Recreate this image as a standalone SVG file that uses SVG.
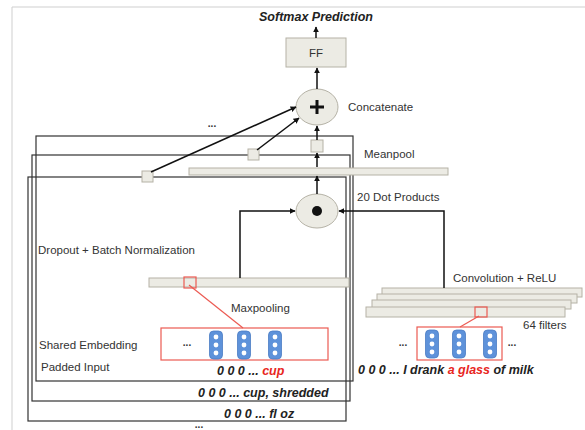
<svg xmlns="http://www.w3.org/2000/svg" width="585" height="430" viewBox="0 0 585 430">
<style>
.t{font-family:"Liberation Sans",Arial,sans-serif;font-size:11.5px;fill:#333}
.bi{font-family:"Liberation Sans",Arial,sans-serif;font-size:12.5px;font-weight:bold;font-style:italic;fill:#222}
.red{fill:#e8261e}
.card{fill:none;stroke:#333;stroke-width:1.2}
.bar{fill:#ecebe4;stroke:#b5b2a6;stroke-width:1}
.node{fill:#ecebe4;stroke:#b5b2a6;stroke-width:1}
.conn{fill:none;stroke:#111;stroke-width:1.5}
.rbox{fill:none;stroke:#ec5a52;stroke-width:1.2}
.pill{fill:#5e92da;stroke:#4a7cc4;stroke-width:0.8}
.dot{fill:#fff}
.dots{font-family:"Liberation Sans",Arial,sans-serif;font-size:10px;font-weight:bold;fill:#333}
</style>
<defs>
<marker id="ah" viewBox="0 0 10 10" refX="9" refY="5" markerWidth="6" markerHeight="6" orient="auto" markerUnits="userSpaceOnUse">
<path d="M0,0 L10,5 L0,10 z" fill="#111"/>
</marker>
<g id="pillshape">
<rect x="-6.5" y="0" width="13" height="28" rx="4" class="pill"/>
<circle cx="0" cy="6" r="2.4" class="dot"/>
<circle cx="0" cy="14" r="2.4" class="dot"/>
<circle cx="0" cy="22" r="2.4" class="dot"/>
</g>
</defs>
<rect width="585" height="430" fill="#fff"/>
<g id="page">
<path d="M12,430 L12,7 L585,7" fill="none" stroke="#cfcfcf" stroke-width="1"/>
</g>
<g id="cards">
<rect class="card" x="36" y="136" width="317" height="245"/>
<rect class="card" x="32" y="155" width="318" height="246"/>
<rect class="card" x="28" y="177" width="318" height="244"/>
</g>
<g id="softmax"><text class="bi" x="316" y="21" text-anchor="middle">Softmax Prediction</text></g>
<g id="ff">
<rect class="node" x="286" y="38" width="60" height="29"/>
<text class="t" x="316" y="57" text-anchor="middle" font-size="10">FF</text>
</g>
<g id="concat">
<ellipse class="node" cx="317" cy="107" rx="21" ry="18"/>
<path d="M317,100 V114 M310,107 H324" stroke="#111" stroke-width="3"/>
<text class="t" x="348" y="111">Concatenate</text>
</g>
<g id="sq-mean">
<rect class="node" x="311" y="140" width="12" height="12"/>
</g>
<g id="sq-a"><rect class="node" x="142" y="171" width="11" height="11"/></g>
<g id="sq-b"><rect class="node" x="248" y="149" width="11" height="11"/></g>
<g id="meanpool">
<rect class="bar" x="189" y="168" width="259" height="7"/>
<text class="t" x="364" y="158">Meanpool</text>
</g>
<g id="dotprod">
<ellipse class="node" cx="317" cy="211" rx="21" ry="17"/>
<circle cx="317" cy="211" r="5" fill="#111"/>
<text class="t" x="357" y="201">20 Dot Products</text>
</g>
<g id="dropout">
<text class="t" x="38" y="254" font-size="12">Dropout + Batch Normalization</text>
<rect class="bar" x="149" y="278" width="200" height="9"/>
<rect class="rbox" x="184" y="277" width="12" height="11"/>
<text class="t" x="231" y="312">Maxpooling</text>
</g>
<g id="embed-left">
<rect class="rbox" x="161" y="328" width="167" height="32"/>
<text class="dots" x="187" y="346" text-anchor="middle">...</text>
<use href="#pillshape" x="216" y="331"/>
<use href="#pillshape" x="244" y="331"/>
<use href="#pillshape" x="275" y="331"/>
<text class="t" x="39" y="349">Shared Embedding</text>
<text class="t" x="41" y="371">Padded Input</text>
<text class="bi" x="217" y="375">0 0 0 ... <tspan class="red">cup</tspan></text>
<text class="bi" x="198" y="397">0 0 0 ... cup, shredded</text>
<text class="bi" x="224" y="418">0 0 0 ... fl oz</text>
</g>
<g id="conv">
<rect class="bar" x="382" y="288" width="200" height="9"/>
<rect class="bar" x="377" y="294" width="200" height="9"/>
<rect class="bar" x="372" y="300" width="199" height="9"/>
<rect class="bar" x="366" y="307" width="199" height="10"/>
<rect class="rbox" x="475" y="307" width="12" height="10"/>
<text class="t" x="453" y="282">Convolution + ReLU</text>
<text class="t" x="523" y="329">64 filters</text>
</g>
<g id="embed-right">
<rect class="rbox" x="417" y="327" width="85" height="33"/>
<text class="dots" x="403" y="346" text-anchor="middle">...</text>
<text class="dots" x="512" y="346" text-anchor="middle">...</text>
<use href="#pillshape" x="432" y="330"/>
<use href="#pillshape" x="459" y="330"/>
<use href="#pillshape" x="490" y="330"/>
<text class="bi" x="358" y="374">0 0 0 ... I drank <tspan class="red">a glass</tspan> of milk</text>
</g>
<g id="ellipses">
<text class="dots" x="212" y="127" text-anchor="middle">...</text>
<text class="dots" x="199" y="428" text-anchor="middle">...</text>
</g>
<g id="connectors">
<line class="conn" x1="316" y1="38" x2="316" y2="27" marker-end="url(#ah)"/>
<line class="conn" x1="317" y1="89" x2="317" y2="68" marker-end="url(#ah)"/>
<line class="conn" x1="317" y1="140" x2="317" y2="126" marker-end="url(#ah)"/>
<line class="conn" x1="317" y1="167" x2="317" y2="153" marker-end="url(#ah)"/>
<line class="conn" x1="317" y1="194" x2="317" y2="176" marker-end="url(#ah)"/>
<line class="conn" x1="151" y1="172" x2="296" y2="107" marker-end="url(#ah)"/>
<line class="conn" x1="257" y1="150" x2="299" y2="118" marker-end="url(#ah)"/>
<polyline class="conn" points="240,278 240,211 295,211" marker-end="url(#ah)"/>
<polyline class="conn" points="444,288 444,211 339,211" marker-end="url(#ah)"/>
<line x1="189" y1="285" x2="243" y2="328" stroke="#ec5a52" stroke-width="1.2"/>
<line x1="479" y1="316" x2="460" y2="327" stroke="#ec5a52" stroke-width="1.2"/>
</g>
</svg>
